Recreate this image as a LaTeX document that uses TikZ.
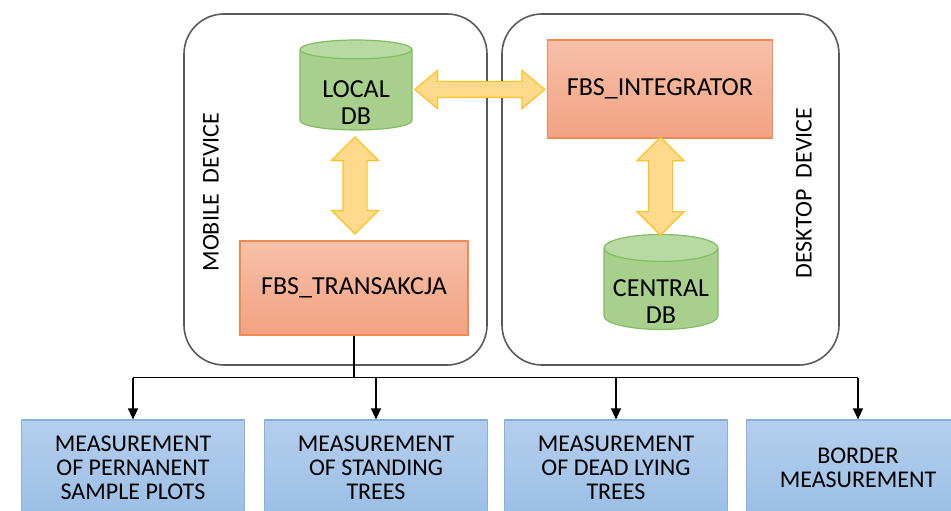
\documentclass[tikz,border=0pt]{standalone}
\usepackage{fontspec}
\setmainfont{Carlito}
\usetikzlibrary{shapes.geometric,shapes.arrows,arrows.meta}
\definecolor{boxline}{HTML}{F08A50}
\definecolor{boxtop}{HTML}{F6C0A8}
\definecolor{boxbot}{HTML}{F3A282}
\definecolor{dbline}{HTML}{82BD64}
\definecolor{dbbody}{HTML}{A8CF8C}
\definecolor{dbend}{HTML}{B7D9A2}
\definecolor{fatline}{HTML}{FFC020}
\definecolor{fatfill}{HTML}{FFD98C}
\definecolor{measline}{HTML}{86B2E0}
\definecolor{meastop}{HTML}{B5CEEC}
\definecolor{measbot}{HTML}{9BBFE6}
% two lines of a database label, set lower in the body
\newcommand{\dbtext}[2]{\raisebox{-16pt}[\height][\depth]{\begin{tabular}{@{}c@{}}#1\\#2\end{tabular}}}
\tikzset{
  device/.style={draw=black!65, line width=1.6pt, rounded corners=40pt},
  soft/.style={draw=boxline, line width=1.2pt, top color=boxtop, bottom color=boxbot,
    minimum width=226pt, minimum height=96pt, font=\fontsize{26}{30}\selectfont},
  database/.style={cylinder, shape border rotate=90, aspect=0.28, draw=dbline, line width=1.2pt,
    cylinder uses custom fill, cylinder body fill=dbbody, cylinder end fill=dbend,
    minimum width=112pt, minimum height=90pt, inner sep=0pt,
    font=\fontsize{26}{27}\selectfont},
  fatarrow/.style={double arrow, draw=fatline, fill=fatfill, line width=1.2pt,
    inner xsep=0pt, inner ysep=11.5pt,
    double arrow head extend=11.5pt, double arrow head indent=0pt},
  task/.style={draw=measline, line width=1.2pt, top color=meastop, bottom color=measbot,
    minimum width=223pt, minimum height=96pt, align=center, font=\fontsize{24}{24}\selectfont},
  feed/.style={-{Triangle[length=11pt,width=10pt]}, line width=1.3pt}
}
\begin{document}
\begin{tikzpicture}[x=1pt,y=-1pt]
  \useasboundingbox (0,0) rectangle (951,511);
  \begin{scope}
    \clip (0,0) rectangle (951,511);
    % the two devices
    \draw[device] (184,14) rectangle (487,365);
    \draw[device] (502,14) rectangle (839,365);
    \node[rotate=90, font=\fontsize{24}{27}\selectfont] (mobile) at (211,192) {MOBILE\ \ DEVICE};
    \node[rotate=90, font=\fontsize{24}{27}\selectfont] (desktop) at (804,193) {DESKTOP\ \ DEVICE};

    % databases and programs
    \node[database] (local) at (356,90) {\dbtext{LOCAL}{DB}};
    \node[database, minimum width=114pt, minimum height=92pt] (central) at (661,289) {\dbtext{CENTRAL}{DB}};
    \node[soft, minimum width=228pt, minimum height=94pt] (trans) at (354,288) {FBS\_TRANSAKCJA};
    \node[soft, minimum width=225pt, minimum height=98pt] (integ) at (660,89) {FBS\_INTEGRATOR};

    % data exchange
    \path (local.south) -- (trans.north)
      node[midway, fatarrow, rotate=90, minimum height=97pt] (sync1) {};
    \path (integ.south) -- (central.north)
      node[midway, fatarrow, rotate=90, minimum height=98pt] (sync2) {};
    \path (local.east) -- (integ.west)
      node[midway, fatarrow, minimum height=130pt, inner ysep=7.5pt,
           double arrow head extend=11pt, double arrow tip angle=80] (sync3) {};

    % measurement modules
    \node[task] (plots) at (133,468) {MEASUREMENT\\OF PERNANENT\\SAMPLE PLOTS};
    \node[task] (standing) at (376,468) {MEASUREMENT\\OF STANDING\\TREES};
    \node[task] (lying) at (616,468) {MEASUREMENT\\OF DEAD LYING\\TREES};
    \node[task] (border) at (858,468) {BORDER\\MEASUREMENT};

    \draw[line width=1.3pt] (trans.south) -- ++(0,42) coordinate (bus);
    \draw[line width=1.3pt] (plots.north|-bus) -- (border.north|-bus);
    \foreach \m in {plots,standing,lying,border}
      \draw[feed] (\m.north|-bus) -- (\m.north);
  \end{scope}
\end{tikzpicture}
\end{document}
